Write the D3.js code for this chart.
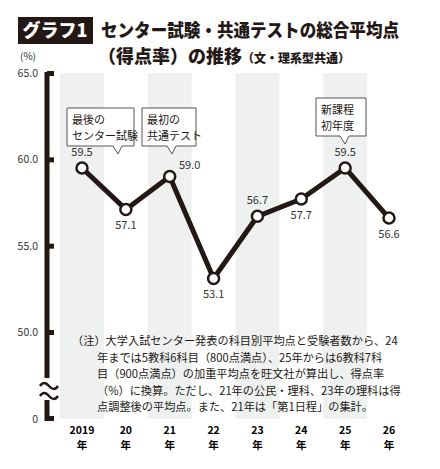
<!DOCTYPE html>
<html><head><meta charset="utf-8">
<script src="https://cdn.jsdelivr.net/npm/d3@7"></script>
<style>body{margin:0;background:#fff}svg{font-family:"Noto Sans CJK JP",sans-serif}</style>
</head><body><svg width="440" height="469"></svg>
<script>
var years = ["2019", "20", "21", "22", "23", "24", "25", "26"];
var scores = [59.5, 57.1, 59.0, 53.1, 56.7, 57.7, 59.5, 56.6];
var yTicks = [65, 60, 55, 50];
// label offsets per point: [dx, dy]
var labelPos = [[0,-12],[0,20],[20,-8],[0,20],[0,-12],[0,20],[0,-12],[0,20]];
var notes = [
  {i: 0, lines: ["最後の", "センター試験"], x: 67, y: 108, w: 67, tip: 118},
  {i: 2, lines: ["最初の", "共通テスト"], x: 142, y: 108, w: 54, tip: 172},
  {i: 6, lines: ["新課程", "初年度"], x: 316, y: 98, w: 50, tip: 345}
];
var noteText = [
  "（注）大学入試センター発表の科目別平均点と受験者数から、24",
  "年までは5教科6科目（800点満点）、25年からは6教科7科",
  "目（900点満点）の加重平均点を旺文社が算出し、得点率",
  "（%）に換算。ただし、21年の公民・理科、23年の理科は得",
  "点調整後の平均点。また、21年は「第1日程」の集計。"
];

var svg = d3.select("svg");
var x = d3.scalePoint().domain(years).range([82, 389]);
var y = d3.scaleLinear().domain([50, 65]).range([332, 73]);
var step = x.step();

// title
svg.append("rect").attr("x", 18).attr("y", 17).attr("width", 75).attr("height", 27).attr("fill", "#231815");
svg.append("text").attr("x", 55).attr("y", 37).attr("text-anchor", "middle").attr("fill", "#fff")
  .attr("font-size", 18).attr("font-weight", 900).text("グラフ1");
svg.append("text").attr("x", 101).attr("y", 37).attr("font-size", 18).attr("font-weight", 900).attr("fill", "#231815")
  .attr("textLength", 298).attr("lengthAdjust", "spacingAndGlyphs").text("センター試験・共通テストの総合平均点");
var t2 = svg.append("text").attr("x", 98).attr("y", 63).attr("font-weight", 900).attr("fill", "#231815");
t2.append("tspan").attr("font-size", 18).text("（得点率）の推移");
t2.append("tspan").attr("font-size", 12).text("（文・理系型共通）");

// bands
svg.selectAll("rect.band").data(years.filter((d, i) => i % 2 == 0)).enter().append("rect")
  .attr("x", d => x(d) - step / 2).attr("y", 73).attr("width", step).attr("height", 346).attr("fill", "#eef1f0");

// y axis
svg.append("text").attr("x", 20).attr("y", 60).attr("font-size", 10).attr("fill", "#333").text("(%)");
svg.append("line").attr("x1", 47).attr("x2", 47).attr("y1", 72).attr("y2", 421).attr("stroke", "#231815").attr("stroke-width", 5);
svg.selectAll("rect.tk").data(yTicks).enter().append("rect")
  .attr("x", 47).attr("y", d => y(d) - 2).attr("width", 7).attr("height", 5).attr("fill", "#231815");
svg.append("rect").attr("x", 47).attr("y", 416).attr("width", 7).attr("height", 5).attr("fill", "#231815");
svg.selectAll("text.yl").data(yTicks).enter().append("text")
  .attr("x", 38).attr("y", d => y(d) + 4).attr("text-anchor", "end").attr("font-size", 10.5).attr("fill", "#333")
  .text(d => d.toFixed(1));
svg.append("text").attr("x", 38).attr("y", 423).attr("text-anchor", "end").attr("font-size", 10.5).attr("fill", "#333").text("0");
// break mark
svg.append("rect").attr("x", 40).attr("y", 378).attr("width", 18).attr("height", 22).attr("fill", "#fff");
svg.selectAll("path.brk").data([382, 392]).enter().append("path")
  .attr("d", d => `M40,${d + 4} q4,-6 9,0 t9,0`).attr("fill", "none").attr("stroke", "#231815").attr("stroke-width", 2.5);

// x labels
var xl = svg.selectAll("g.xl").data(years).enter().append("g").attr("transform", d => `translate(${x(d)},0)`);
xl.append("text").attr("y", 434).attr("text-anchor", "middle").attr("font-size", 10.5).attr("font-weight", 700).text(d => d);
xl.append("text").attr("y", 449).attr("text-anchor", "middle").attr("font-size", 10.5).attr("font-weight", 700).text("年");

// line
var line = d3.line().x((d, i) => x(years[i])).y(d => y(d));
svg.append("path").attr("d", line(scores)).attr("fill", "none").attr("stroke", "#231815").attr("stroke-width", 5).attr("stroke-linejoin", "round");
svg.selectAll("circle").data(scores).enter().append("circle")
  .attr("cx", (d, i) => x(years[i])).attr("cy", d => y(d)).attr("r", 5.5)
  .attr("fill", "#fff").attr("stroke", "#231815").attr("stroke-width", 2.5);
svg.selectAll("text.val").data(scores).enter().append("text")
  .attr("x", (d, i) => x(years[i]) + labelPos[i][0]).attr("y", (d, i) => y(d) + labelPos[i][1])
  .attr("text-anchor", "middle").attr("font-size", 11).attr("fill", "#333").text(d => d.toFixed(1));

// callouts
var cg = svg.selectAll("g.note").data(notes).enter().append("g");
cg.append("path").attr("d", d => {
  var b = d.y + 38, cx = d.tip;
  return `M${d.x},${d.y} h${d.w} v38 H${cx + 4} L${cx},${b + 8} L${cx - 5},${b} H${d.x} Z`;
}).attr("fill", "#fff").attr("stroke", "#555").attr("stroke-width", 1);
cg.each(function (d) {
  d3.select(this).selectAll("text").data(d.lines).enter().append("text")
    .attr("x", d.x + 5).attr("y", (l, j) => d.y + 16 + j * 16).attr("font-size", 11).attr("fill", "#231815").text(l => l);
});

// note
svg.selectAll("text.nt").data(noteText).enter().append("text")
  .attr("x", (d, i) => i == 0 ? 72 : 97).attr("y", (d, i) => 345 + i * 16.5)
  .attr("font-size", 11.2).attr("fill", "#231815").text(d => d);
</script></body></html>
